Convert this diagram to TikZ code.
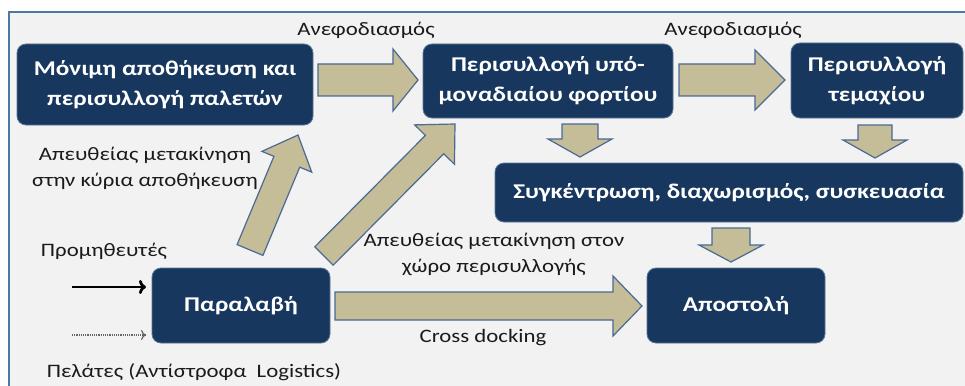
\documentclass[tikz,border=0pt]{standalone}
\usepackage{fontspec}
\setmainfont{Carlito}[FakeStretch=1.2]
\usetikzlibrary{calc,arrows.meta}
\definecolor{navy}{HTML}{17375E}
\definecolor{navyedge}{HTML}{5A7698}
\definecolor{tan}{HTML}{C4BD97}
\definecolor{tanedge}{HTML}{4A6A93}
\definecolor{framecol}{HTML}{4F77A6}
\definecolor{bggray}{HTML}{F2F2F2}
\definecolor{labcol}{HTML}{1A1A1A}
\tikzset{
  box/.style={rounded corners=9pt, fill=navy, draw=navyedge, line width=0.8pt, text=white,
    align=center, inner sep=0pt, font=\bfseries\fontsize{21}{30}\selectfont},
  barrow/.style={fill=tan, draw=tanedge, line width=1.2pt, line join=miter},
  lab/.style={text=labcol, align=center, inner sep=0pt, font=\fontsize{19}{26}\selectfont}
}
\newcommand\blockarrow[5]{%
 \draw[barrow] let \p1=(#1),\p2=(#2),\n1={atan2(\y2-\y1,\x2-\x1)},\n2={veclen(\x2-\x1,\y2-\y1)-#5} in
 ($(\p1)+(\n1+90:#3pt)$) -- ($(\p1)+(\n1:\n2)+(\n1+90:#3pt)$) -- ($(\p1)+(\n1:\n2)+(\n1+90:#4pt)$) -- (\p2)
 -- ($(\p1)+(\n1:\n2)+(\n1-90:#4pt)$) -- ($(\p1)+(\n1:\n2)+(\n1-90:#3pt)$) -- ($(\p1)+(\n1-90:#3pt)$) -- cycle;}
\begin{document}
\begin{tikzpicture}[x=1pt,y=-1pt]
\useasboundingbox (0,0) rectangle (965,385);
\clip (0,0) rectangle (965,385);
\fill[white] (0,0) rectangle (965,385);
\draw[framecol, fill=bggray, line width=1.2pt] (9,12) rectangle (995,410);

% boxes
\node[box, minimum width=296pt, minimum height=81pt] (store) at (165,84.5) {Μόνιμη αποθήκευση και\\περισυλλογή παλετών};
\node[box, minimum width=250pt, minimum height=74pt] (sub) at (548,81) {Περισυλλογή υπό-\\μοναδιαίου φορτίου};
\node[box, minimum width=172pt, minimum height=75pt] (piece) at (877,80.5) {Περισυλλογή\\τεμαχίου};
\node[box, minimum width=468pt, minimum height=59pt] (pack) at (729,192.5) {Συγκέντρωση, διαχωρισμός, συσκευασία};
\node[box, minimum width=178pt, minimum height=75pt] (recv) at (241,305.5) {Παραλαβή};
\node[box, minimum width=178pt, minimum height=75pt] (ship) at (736,305.5) {Αποστολή};

% block arrows
\coordinate (a1s) at (318,80);  \coordinate (a1e) at (418,80);
\coordinate (a2s) at (679,80);  \coordinate (a2e) at (785,80);
\coordinate (a3s) at (580,124); \coordinate (a3e) at (580,157);
\coordinate (a4s) at (875,125); \coordinate (a4e) at (875,158);
\coordinate (a5s) at (731,228); \coordinate (a5e) at (731,262);
\coordinate (a6s) at (335,306); \coordinate (a6e) at (642,306);
\coordinate (a7s) at (250,250); \coordinate (a7e) at (298,135);
\coordinate (a8s) at (324,256); \coordinate (a8e) at (455,124);
\blockarrow{a1s}{a1e}{16}{31}{25}
\blockarrow{a2s}{a2e}{16}{30}{30}
\blockarrow{a3s}{a3e}{18}{32}{18}
\blockarrow{a4s}{a4e}{17}{32}{18}
\blockarrow{a5s}{a5e}{19}{32}{17}
\blockarrow{a6s}{a6e}{14}{30}{29}
\blockarrow{a7s}{a7e}{14}{27}{29}
\blockarrow{a8s}{a8e}{13}{28}{29}

% labels
\node[lab] (l1) at (366,30) {Ανεφοδιασμός};
\node[lab] (l2) at (733,30) {Ανεφοδιασμός};
\node[lab] (l3) at (145,168) {Απευθείας μετακίνηση\\στην κύρια αποθήκευση};
\node[lab] (l4) at (104,251) {Προμηθευτές};
\node[lab] (l5) at (494,254) {Απευθείας μετακίνηση στον\\χώρο περισυλλογής};
\node[lab] (l6) at (483,338) {Cross docking};
\node[lab] (l7) at (194,372) {Πελάτες (Αντίστροφα\ \ Logistics)};

% input arrows
\coordinate (s1) at (72,287);  \coordinate (e1) at (146,287);
\coordinate (s2) at (72,335);  \coordinate (e2) at (146,335);
\draw[-{To[length=7pt,width=14pt]}, line width=2.8pt] (s1) -- (e1);
\draw[-{To[length=5pt,width=10pt]}, densely dotted, black!60, line width=1.2pt] (s2) -- (e2);
\end{tikzpicture}
\end{document}
